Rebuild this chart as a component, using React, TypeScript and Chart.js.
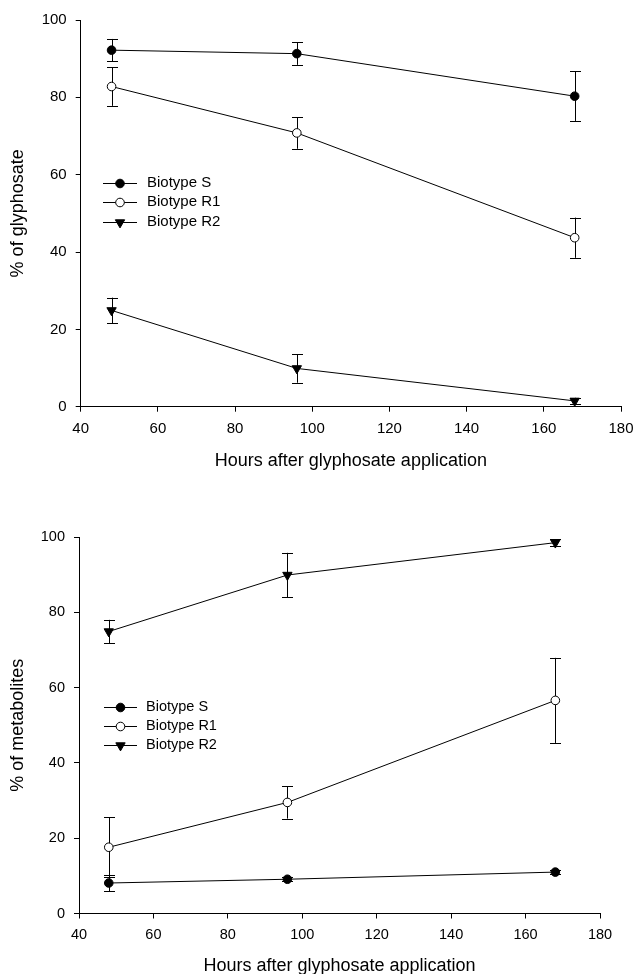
import React, { useEffect, useRef } from 'react';
import { Chart, registerables } from 'chart.js';
import { drawPoint } from 'chart.js/helpers';

Chart.register(...registerables);

// ---------- data ----------
const hours = [48, 96, 168];
const seriesLabels = ['Biotype S', 'Biotype R1', 'Biotype R2'];
const xTitle = 'Hours after glyphosate application';

// Panel 1: % of glyphosate
const glyphosateS = [92.2, 91.3, 80.3];
const glyphosateSErr = [2.9, 2.9, 6.4];
const glyphosateR1 = [82.8, 70.8, 43.7];
const glyphosateR1Err = [5.0, 4.1, 5.2];
const glyphosateR2 = [24.9, 9.9, 1.5];
const glyphosateR2Err = [3.3, 3.7, 0.8];

// Panel 2: % of metabolites
const metabolitesS = [8.1, 9.1, 11.0];
const metabolitesSErr = [2.2, 0.6, 0.5];
const metabolitesR1 = [17.6, 29.5, 56.6];
const metabolitesR1Err = [7.9, 4.3, 11.3];
const metabolitesR2 = [74.9, 89.9, 98.5];
const metabolitesR2Err = [3.1, 5.9, 0.9];

const FONT = "'Liberation Sans', Arial, Helvetica, sans-serif";

const markerStyles = [
  { pointStyle: 'circle', rotation: 0, radius: 4.3, fill: '#000000' },
  { pointStyle: 'circle', rotation: 0, radius: 4.3, fill: '#ffffff' },
  { pointStyle: 'triangle', rotation: 180, radius: 5.4, fill: '#000000' },
];

const errorBarPlugin = {
  id: 'errorBars',
  beforeDatasetsDraw(chart: any) {
    const ctx = chart.ctx;
    const yScale = chart.scales.y;
    ctx.save();
    ctx.strokeStyle = '#000';
    ctx.lineWidth = 1;
    chart.data.datasets.forEach((ds: any, i: number) => {
      const errs = ds.errors;
      if (!errs) return;
      const meta = chart.getDatasetMeta(i);
      meta.data.forEach((pt: any, j: number) => {
        const v = ds.data[j].y;
        const e = errs[j];
        const x = Math.round(pt.x) + 0.5;
        const yt = yScale.getPixelForValue(v + e);
        const yb = yScale.getPixelForValue(v - e);
        const cap = 5.5;
        ctx.beginPath();
        ctx.moveTo(x, yt);
        ctx.lineTo(x, yb);
        ctx.moveTo(x - cap, Math.round(yt) + 0.5);
        ctx.lineTo(x + cap, Math.round(yt) + 0.5);
        ctx.moveTo(x - cap, Math.round(yb) + 0.5);
        ctx.lineTo(x + cap, Math.round(yb) + 0.5);
        ctx.stroke();
      });
    });
    ctx.restore();
  },
};

const innerLegendPlugin = {
  id: 'innerLegend',
  afterDatasetsDraw(chart: any, _args: any, opts: any) {
    const ctx = chart.ctx;
    ctx.save();
    ctx.font = `${opts.fontSize}px ${FONT}`;
    ctx.textBaseline = 'middle';
    ctx.textAlign = 'left';
    chart.data.datasets.forEach((ds: any, i: number) => {
      const y = opts.rows[i];
      ctx.strokeStyle = '#000';
      ctx.lineWidth = 1;
      ctx.beginPath();
      ctx.moveTo(opts.lineStart, Math.round(y) + 0.5);
      ctx.lineTo(opts.lineEnd, Math.round(y) + 0.5);
      ctx.stroke();
      ctx.fillStyle = ds.pointBackgroundColor;
      ctx.strokeStyle = '#000';
      ctx.lineWidth = 1;
      drawPoint(
        ctx,
        {
          pointStyle: ds.pointStyle,
          rotation: ds.pointRotation,
          radius: ds.pointRadius,
          borderWidth: 1,
        } as any,
        (opts.lineStart + opts.lineEnd) / 2,
        Math.round(y) + 0.5
      );
      ctx.fillStyle = '#000';
      ctx.fillText(ds.label, opts.textX, y);
    });
    ctx.restore();
  },
};

type PanelGeom = {
  width: number;
  height: number;
  areaLeft: number;
  areaRight: number;
  areaTop: number;
  areaBottom: number;
  tickFont: number;
  titleFont: number;
  xTitlePadBottom: number;
  yTitlePadTop: number;
  legend: { lineStart: number; lineEnd: number; textX: number; rows: number[]; fontSize: number };
};

function buildConfig(values: number[][], errors: number[][], yTitle: string, g: PanelGeom): any {
  const datasets = seriesLabels.map((label, k) => ({
    label,
    data: hours.map((h, i) => ({ x: h, y: values[k][i] })),
    errors: errors[k],
    borderColor: '#000000',
    borderWidth: 1,
    pointStyle: markerStyles[k].pointStyle,
    pointRotation: markerStyles[k].rotation,
    pointRadius: markerStyles[k].radius,
    pointHoverRadius: markerStyles[k].radius,
    pointBackgroundColor: markerStyles[k].fill,
    pointBorderColor: '#000000',
    pointBorderWidth: 1,
    tension: 0,
    fill: false,
    clip: false,
  }));

  const tickFont = { family: FONT, size: g.tickFont };
  return {
    type: 'line',
    data: { datasets },
    plugins: [errorBarPlugin, innerLegendPlugin],
    options: {
      responsive: false,
      animation: false,
      events: [],
      layout: {
        padding: { left: 0, top: g.areaTop, right: g.width - g.areaRight, bottom: 0 },
      },
      plugins: {
        legend: { display: false },
        tooltip: { enabled: false },
        innerLegend: g.legend,
      },
      scales: {
        x: {
          type: 'linear',
          min: 40,
          max: 180,
          ticks: { stepSize: 20, color: '#000', font: tickFont, padding: 8, maxRotation: 0 },
          grid: { drawOnChartArea: false, drawTicks: true, tickLength: 5, color: '#000', lineWidth: 1 },
          border: { display: true, color: '#000', width: 1 },
          title: {
            display: true,
            text: xTitle,
            color: '#000',
            font: { family: FONT, size: g.titleFont },
            padding: { top: 0, bottom: g.xTitlePadBottom },
          },
          afterFit(scale: any) {
            scale.height = g.height - g.areaBottom;
            scale.paddingLeft = 0;
            scale.paddingRight = 0;
          },
        },
        y: {
          type: 'linear',
          min: 0,
          max: 100,
          ticks: { stepSize: 20, color: '#000', font: tickFont, padding: 9 },
          grid: { drawOnChartArea: false, drawTicks: true, tickLength: 5, color: '#000', lineWidth: 1 },
          border: { display: true, color: '#000', width: 1 },
          title: {
            display: true,
            text: yTitle,
            color: '#000',
            font: { family: FONT, size: g.titleFont },
            padding: { top: g.yTitlePadTop, bottom: 0 },
          },
          afterFit(scale: any) {
            scale.width = g.areaLeft;
            scale.paddingTop = 0;
            scale.paddingBottom = 0;
          },
        },
      },
    },
  };
}

function Panel({ config, width, height, top }: { config: any; width: number; height: number; top: number }) {
  const ref = useRef<HTMLCanvasElement | null>(null);
  useEffect(() => {
    if (!ref.current) return;
    const chart = new Chart(ref.current, config);
    return () => chart.destroy();
  }, [config]);
  return (
    <canvas
      ref={ref}
      width={width}
      height={height}
      style={{ position: 'absolute', left: 0, top, width, height, display: 'block' }}
    />
  );
}

const topGeom: PanelGeom = {
  width: 635,
  height: 487,
  areaLeft: 80.7,
  areaRight: 621,
  areaTop: 20,
  areaBottom: 406.7,
  tickFont: 15,
  titleFont: 18,
  xTitlePadBottom: 15,
  yTitlePadTop: 7,
  legend: { lineStart: 103, lineEnd: 137, textX: 147, rows: [182.7, 202.2, 221.7], fontSize: 15 },
};

const bottomGeom: PanelGeom = {
  width: 635,
  height: 500,
  areaLeft: 79,
  areaRight: 600,
  areaTop: 50,
  areaBottom: 426.5,
  tickFont: 14.5,
  titleFont: 18,
  xTitlePadBottom: 10,
  yTitlePadTop: 7,
  legend: { lineStart: 104, lineEnd: 137, textX: 146, rows: [219.7, 239, 258.3], fontSize: 14.5 },
};

const topConfig = buildConfig(
  [glyphosateS, glyphosateR1, glyphosateR2],
  [glyphosateSErr, glyphosateR1Err, glyphosateR2Err],
  '% of glyphosate',
  topGeom
);

const bottomConfig = buildConfig(
  [metabolitesS, metabolitesR1, metabolitesR2],
  [metabolitesSErr, metabolitesR1Err, metabolitesR2Err],
  '% of metabolites',
  bottomGeom
);

export default function App() {
  return (
    <div
      style={{
        position: 'absolute',
        left: 0,
        top: 0,
        width: 635,
        height: 974,
        overflow: 'hidden',
        background: '#ffffff',
      }}
    >
      <Panel config={topConfig} width={635} height={487} top={0} />
      <Panel config={bottomConfig} width={635} height={500} top={487} />
    </div>
  );
}
